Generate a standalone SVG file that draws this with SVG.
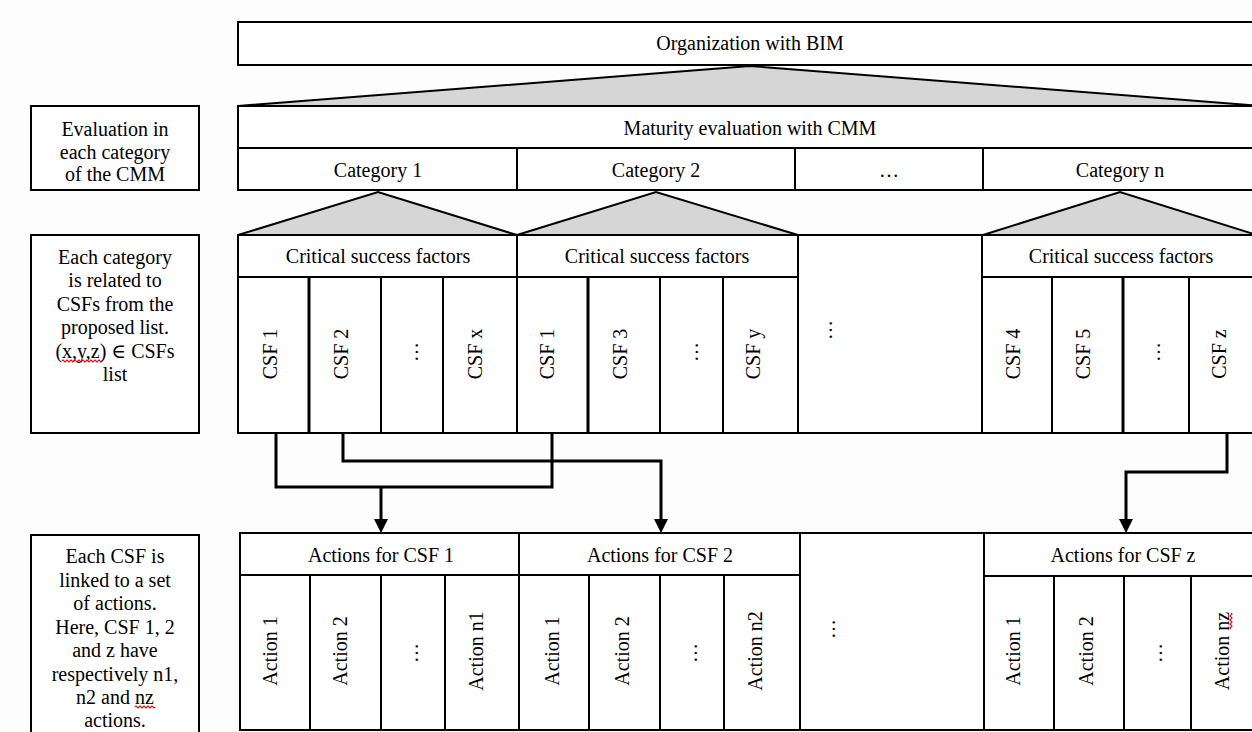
<svg xmlns="http://www.w3.org/2000/svg" width="1252" height="732" viewBox="0 0 1252 732">
<style>
.box{fill:#fff;stroke:#000;stroke-width:2}
.ln{fill:none;stroke:#000;stroke-width:2}
.thk{fill:none;stroke:#000;stroke-width:3}
.tri{fill:#d6d6d6;stroke:#000;stroke-width:2;stroke-linejoin:miter}
.t{font-family:"Liberation Serif","Times New Roman","DejaVu Serif",serif;font-size:20px;fill:#000;text-anchor:middle}
.conn{fill:none;stroke:#000;stroke-width:3}
.sq{fill:none;stroke:#e00000;stroke-width:1.2}
</style>
<defs>
<marker id="arr" markerUnits="userSpaceOnUse" markerWidth="14" markerHeight="14" refX="8" refY="7" orient="auto">
<path d="M0,0 L14,7 L0,14 z" fill="#000"/>
</marker>
</defs>
<rect width="1252" height="732" fill="#fdfdfd"/>

<g id="org">
<rect class="box" x="238" y="22" width="1024" height="43"/>
<text class="t" x="750" y="50">Organization with BIM</text>
</g>

<g id="tri-main"><polygon class="tri" points="238,106 750,66 1262,106"/></g>

<g id="maturity">
<rect class="box" x="238" y="106" width="1024" height="84"/>
<line class="ln" x1="238" y1="148" x2="1262" y2="148"/>
<line class="ln" x1="517" y1="148" x2="517" y2="190"/>
<line class="ln" x1="795" y1="148" x2="795" y2="190"/>
<line class="ln" x1="983" y1="148" x2="983" y2="190"/>
<text class="t" x="750" y="135">Maturity evaluation with CMM</text>
<text class="t" x="378" y="177">Category 1</text>
<text class="t" x="656" y="177">Category 2</text>
<text class="t" x="889" y="177">…</text>
<text class="t" x="1120" y="177">Category n</text>
</g>

<g id="tri-cats">
<polygon class="tri" points="238,235 378,192 517,235"/>
<polygon class="tri" points="517,235 656,192 798,235"/>
<polygon class="tri" points="983,235 1120,192 1257,235"/>
</g>

<g id="label-1">
<rect class="box" x="31" y="106" width="168" height="84"/>
<text class="t" x="115" y="136">Evaluation in</text>
<text class="t" x="115" y="158.5">each category</text>
<text class="t" x="115" y="181">of the CMM</text>
</g>

<g id="label-2">
<rect class="box" x="31" y="235" width="168" height="198"/>
<text class="t" x="115" y="263.5">Each category</text>
<text class="t" x="115" y="287">is related to</text>
<text class="t" x="115" y="310.5">CSFs from the</text>
<text class="t" x="115" y="334">proposed list.</text>
<text class="t" x="115" y="357.5">(x,y,z) ∈ CSFs</text>
<text class="t" x="115" y="381">list</text>
<path class="sq" d="M62,361 q1,-2 2,0 t2,0 t2,0 t2,0 t2,0 t2,0 t2,0 t2,0 t2,0 t2,0 t2,0 t2,0 t2,0 t2,0 t2,0 t2,0 t2,0 t2,0 t2,0 t2,0"/>
</g>

<g id="label-3">
<rect class="box" x="31" y="535" width="168" height="205"/>
<text class="t" x="115" y="563">Each CSF is</text>
<text class="t" x="115" y="586.5">linked to a set</text>
<text class="t" x="115" y="610">of actions.</text>
<text class="t" x="115" y="633.5">Here, CSF 1, 2</text>
<text class="t" x="115" y="657">and z have</text>
<text class="t" x="115" y="680.5">respectively n1,</text>
<text class="t" x="115" y="704">n2 and nz</text>
<text class="t" x="115" y="727">actions.</text>
<path class="sq" d="M135,707 q1,-2 2,0 t2,0 t2,0 t2,0 t2,0 t2,0 t2,0 t2,0 t2,0 t2,0"/>
</g>

<g id="csf-group-1">
<rect class="box" x="238" y="235" width="279" height="42"/>
<rect class="box" x="238" y="277" width="279" height="156"/>
<line class="thk" x1="309" y1="277" x2="309" y2="433"/>
<line class="ln" x1="381" y1="277" x2="381" y2="433"/>
<line class="ln" x1="443" y1="277" x2="443" y2="433"/>
<text class="t" x="378" y="263">Critical success factors</text>
<text class="t" transform="translate(270,354) rotate(-90)" dy="0.35em">CSF 1</text>
<text class="t" transform="translate(341,354) rotate(-90)" dy="0.35em">CSF 2</text>
<text class="t" transform="translate(418,352) rotate(-90)">…</text>
<text class="t" transform="translate(475,354) rotate(-90)" dy="0.35em">CSF x</text>
</g>

<g id="csf-group-2">
<rect class="box" x="517" y="235" width="281" height="42"/>
<rect class="box" x="517" y="277" width="281" height="156"/>
<line class="thk" x1="588" y1="277" x2="588" y2="433"/>
<line class="ln" x1="660" y1="277" x2="660" y2="433"/>
<line class="ln" x1="723" y1="277" x2="723" y2="433"/>
<text class="t" x="657" y="263">Critical success factors</text>
<text class="t" transform="translate(547,354) rotate(-90)" dy="0.35em">CSF 1</text>
<text class="t" transform="translate(620,354) rotate(-90)" dy="0.35em">CSF 3</text>
<text class="t" transform="translate(698,352) rotate(-90)">…</text>
<text class="t" transform="translate(753,354) rotate(-90)" dy="0.35em">CSF y</text>
</g>

<g id="csf-middle">
<rect class="box" x="798" y="235" width="184" height="198"/>
<text class="t" transform="translate(832,330) rotate(-90)">…</text>
</g>

<g id="csf-group-n">
<rect class="box" x="982" y="235" width="280" height="42"/>
<rect class="box" x="982" y="277" width="280" height="156"/>
<line class="ln" x1="1052" y1="277" x2="1052" y2="433"/>
<line class="thk" x1="1123" y1="277" x2="1123" y2="433"/>
<line class="ln" x1="1189" y1="277" x2="1189" y2="433"/>
<text class="t" x="1121" y="263">Critical success factors</text>
<text class="t" transform="translate(1013,354) rotate(-90)" dy="0.35em">CSF 4</text>
<text class="t" transform="translate(1083,354) rotate(-90)" dy="0.35em">CSF 5</text>
<text class="t" transform="translate(1160,352) rotate(-90)">…</text>
<text class="t" transform="translate(1219,354) rotate(-90)" dy="0.35em">CSF z</text>
</g>

<g id="connectors">
<path class="conn" d="M276,433 V487 H552 V433"/>
<path class="conn" d="M381,487 V527" marker-end="url(#arr)"/>
<path class="conn" d="M343,433 V461 H661 V527" marker-end="url(#arr)"/>
<path class="conn" d="M1227,433 V472 H1126 V527" marker-end="url(#arr)"/>
</g>

<g id="actions-1">
<rect class="box" x="240" y="533" width="279" height="42"/>
<rect class="box" x="240" y="575" width="279" height="155"/>
<line class="ln" x1="310" y1="575" x2="310" y2="730"/>
<line class="ln" x1="381" y1="575" x2="381" y2="730"/>
<line class="ln" x1="445" y1="575" x2="445" y2="730"/>
<text class="t" x="381" y="562">Actions for CSF 1</text>
<text class="t" transform="translate(270,651) rotate(-90)" dy="0.35em">Action 1</text>
<text class="t" transform="translate(340,651) rotate(-90)" dy="0.35em">Action 2</text>
<text class="t" transform="translate(418,653) rotate(-90)">…</text>
<text class="t" transform="translate(476,651) rotate(-90)" dy="0.35em">Action n1</text>
</g>

<g id="actions-2">
<rect class="box" x="519" y="533" width="281" height="42"/>
<rect class="box" x="519" y="575" width="281" height="155"/>
<line class="ln" x1="589" y1="575" x2="589" y2="730"/>
<line class="ln" x1="660" y1="575" x2="660" y2="730"/>
<line class="ln" x1="724" y1="575" x2="724" y2="730"/>
<text class="t" x="660" y="562">Actions for CSF 2</text>
<text class="t" transform="translate(552,651) rotate(-90)" dy="0.35em">Action 1</text>
<text class="t" transform="translate(622,651) rotate(-90)" dy="0.35em">Action 2</text>
<text class="t" transform="translate(697,653) rotate(-90)">…</text>
<text class="t" transform="translate(755,651) rotate(-90)" dy="0.35em">Action n2</text>
</g>

<g id="actions-middle">
<rect class="box" x="800" y="533" width="184" height="197"/>
<text class="t" transform="translate(835,629) rotate(-90)">…</text>
</g>

<g id="actions-z">
<rect class="box" x="984" y="533" width="278" height="43"/>
<rect class="box" x="984" y="576" width="278" height="154"/>
<line class="ln" x1="1054" y1="576" x2="1054" y2="730"/>
<line class="ln" x1="1124" y1="576" x2="1124" y2="730"/>
<line class="ln" x1="1191" y1="576" x2="1191" y2="730"/>
<text class="t" x="1123" y="562">Actions for CSF z</text>
<text class="t" transform="translate(1013,651) rotate(-90)" dy="0.35em">Action 1</text>
<text class="t" transform="translate(1086,651) rotate(-90)" dy="0.35em">Action 2</text>
<text class="t" transform="translate(1162,653) rotate(-90)">…</text>
<text class="t" transform="translate(1222,651) rotate(-90)" dy="0.35em">Action nz</text>
<path class="sq" d="M1231,629 q-2,-1 0,-2 t0,-2 t0,-2 t0,-2 t0,-2 t0,-2 t0,-2 t0,-2"/>
</g>
</svg>
